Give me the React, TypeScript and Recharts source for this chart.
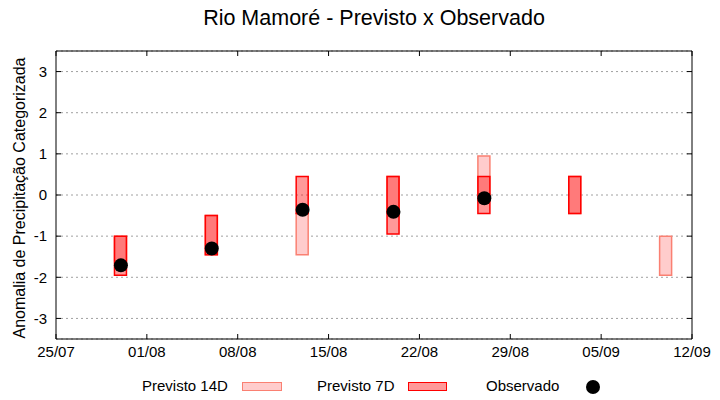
import React from "react";
import { ComposedChart, Bar, Scatter, XAxis, YAxis, CartesianGrid } from "recharts";

// dias contados a partir de 25/07
const tickDias = [0, 7, 14, 21, 28, 35, 42, 49];
const tickDatas = ["25/07", "01/08", "08/08", "15/08", "22/08", "29/08", "05/09", "12/09"];
const tickAnomalia = [-3, -2, -1, 0, 1, 2, 3];

const dias = [5, 12, 19, 26, 33, 40, 47];
const prev14Min = [-1.6, -1.45, -1.45, -0.45, 0, -0.45, -1.95];
const prev14Max = [-1, -0.5, -0.45, 0.45, 0.95, 0.45, -1];
const prev7Min = [-1.95, -1.45, -0.45, -0.95, -0.45, -0.45, null];
const prev7Max = [-1, -0.5, 0.45, 0.45, 0.45, 0.45, null];
const observado = [-1.71, -1.3, -0.36, -0.41, -0.08, null, null];

const linhas = dias.map((d, i) => ({
  dia: d,
  p14: prev14Min[i] == null ? null : [prev14Min[i], prev14Max[i]],
  p7: prev7Min[i] == null ? null : [prev7Min[i], prev7Max[i]],
}));

const pontosObs = dias
  .map((d, i) => ({ dia: d, obs: observado[i] }))
  .filter((p) => p.obs != null);

const fonte = "'Liberation Sans', Arial, sans-serif";

const Ponto = (props: any) => (
  <circle cx={props.cx} cy={props.cy} r={7} fill="#000" />
);

const semRotulo = () => null;

export default function App() {
  return (
    <div
      style={{
        position: "absolute",
        left: 0,
        top: 0,
        width: 720,
        height: 400,
        background: "#fff",
        fontFamily: fonte,
        color: "#000",
      }}
    >
      <div
        style={{
          position: "absolute",
          left: 0,
          width: 748,
          top: 6,
          textAlign: "center",
          fontSize: 21.5,
        }}
      >
        Rio Mamoré - Previsto x Observado
      </div>
      <div
        style={{
          position: "absolute",
          left: 20,
          top: 198,
          width: 0,
          height: 0,
        }}
      >
        <div
          style={{
            position: "absolute",
            left: -200,
            top: -9,
            width: 400,
            textAlign: "center",
            fontSize: 16,
            lineHeight: "18px",
            transform: "rotate(-90deg)",
            whiteSpace: "nowrap",
          }}
        >
          Anomalia de Precipitação Categorizada
        </div>
      </div>

      <ComposedChart
        width={720}
        height={400}
        data={linhas}
        margin={{ top: 50, right: 27, bottom: 0, left: 0 }}
      >
        <CartesianGrid
          xAxisId="baixo"
          yAxisId="esq"
          vertical={false}
          stroke="#a0a0a0"
          strokeDasharray="2 3"
        />
        <XAxis
          xAxisId="baixo"
          dataKey="dia"
          type="number"
          domain={[0, 49]}
          ticks={tickDias}
          interval={0}
          tickFormatter={(v: number) => tickDatas[tickDias.indexOf(v)]}
          height={61}
          tickSize={-5}
          tickMargin={12}
          stroke="#000"
          tick={{ fill: "#000", fontSize: 15, fontFamily: fonte }}
        />
        <XAxis
          xAxisId="cima"
          orientation="top"
          dataKey="dia"
          type="number"
          domain={[0, 49]}
          ticks={tickDias}
          interval={0}
          height={1}
          tickSize={-5}
          stroke="#000"
          tick={semRotulo}
        />
        <YAxis
          yAxisId="esq"
          type="number"
          domain={[-3.5, 3.5]}
          ticks={tickAnomalia}
          interval={0}
          width={56}
          tickSize={-5}
          tickMargin={14}
          stroke="#000"
          tick={{ fill: "#000", fontSize: 15, fontFamily: fonte }}
        />
        <YAxis
          yAxisId="dir"
          orientation="right"
          type="number"
          domain={[-3.5, 3.5]}
          ticks={tickAnomalia}
          interval={0}
          width={1}
          tickSize={-5}
          stroke="#000"
          tick={semRotulo}
        />
        <Bar
          xAxisId="baixo"
          yAxisId="esq"
          dataKey="p14"
          barSize={12}
          fill="#ffcccc"
          stroke="#fa8072"
          strokeWidth={1.5}
          isAnimationActive={false}
        />
        <Bar
          xAxisId="cima"
          yAxisId="dir"
          dataKey="p7"
          barSize={12}
          fill="rgba(255,0,0,0.4)"
          stroke="#ff0000"
          strokeWidth={1.5}
          isAnimationActive={false}
        />
        <Scatter
          xAxisId="baixo"
          yAxisId="esq"
          data={pontosObs}
          dataKey="obs"
          shape={Ponto}
          isAnimationActive={false}
        />
      </ComposedChart>

      <div style={{ position: "absolute", left: 142, top: 377, fontSize: 15, lineHeight: "17px" }}>
        Previsto 14D
      </div>
      <div
        style={{
          position: "absolute",
          left: 242,
          top: 382,
          width: 38,
          height: 7,
          background: "#ffcccc",
          border: "1.5px solid #fa8072",
        }}
      />
      <div style={{ position: "absolute", left: 317, top: 377, fontSize: 15, lineHeight: "17px" }}>
        Previsto 7D
      </div>
      <div
        style={{
          position: "absolute",
          left: 408,
          top: 382,
          width: 37,
          height: 7,
          background: "#ff9999",
          border: "1.5px solid #ff0000",
        }}
      />
      <div style={{ position: "absolute", left: 486, top: 377, fontSize: 15, lineHeight: "17px" }}>
        Observado
      </div>
      <div
        style={{
          position: "absolute",
          left: 586,
          top: 380,
          width: 14,
          height: 14,
          borderRadius: 7,
          background: "#000",
        }}
      />
    </div>
  );
}
